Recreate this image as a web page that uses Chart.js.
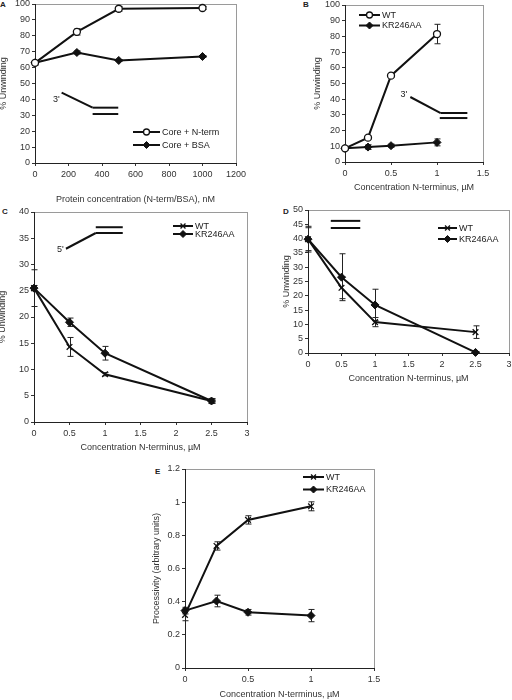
<!DOCTYPE html>
<html>
<head>
<meta charset="utf-8">
<script src="https://cdn.jsdelivr.net/npm/chart.js@4.4.1/dist/chart.umd.min.js"></script>
<style>
  body { margin: 0; width: 512px; height: 700px; overflow: hidden; background: #fff; position: relative; }
  canvas { position: absolute; }
  .tag { position: absolute; font: bold 8px 'Liberation Sans', Arial, sans-serif; color: #222; }
</style>
</head>
<body>
<div class="tag" style="left:0px;top:0px">A</div>
<div class="tag" style="left:303px;top:0px">B</div>
<div class="tag" style="left:2px;top:207px">C</div>
<div class="tag" style="left:283px;top:207px">D</div>
<div class="tag" style="left:155px;top:467px">E</div>
<canvas id="chartA"></canvas>
<canvas id="chartB"></canvas>
<canvas id="chartC"></canvas>
<canvas id="chartD"></canvas>
<canvas id="chartE"></canvas>
<script>
// ---- panel A data
const aConc = [0, 250, 500, 1000]
const aNterm = [63, 82.5, 97, 97.5]
const aNtermErr = [1.5, 2, 1.5, 1]
const aBsa = [63, 69.5, 64.5, 67]
const aBsaErr = [1, 1, 0.5, 0.5]
const aXTicks = [0, 200, 400, 600, 800, 1000, 1200]
const aYTicks = [0, 10, 20, 30, 40, 50, 60, 70, 80, 90, 100]

// ---- panel B data
const bConc = [0, 0.25, 0.5, 1]
const bWT = [8.7, 15.5, 55, 81.5]
const bWTErr = [1, 1, 1, 6.2]
const bKR = [8.7, 9.5, 10.4, 12.5]
const bKRErr = [1, 1.5, 1, 2.2]
const bXTicks = [0, 0.5, 1, 1.5]
const bYTicks = [0, 10, 20, 30, 40, 50, 60, 70, 80, 90, 100]

// ---- panel C data
const cConc = [0, 0.5, 1, 2.5]
const cWT = [25.5, 14.3, 9.1, 4]
const cWTErr = [3.5, 1.8, 0.3, 0.4]
const cKR = [25.5, 19, 13.1, 4]
const cKRErr = [0.5, 0.8, 1.3, 0.4]
const cXTicks = [0, 0.5, 1, 1.5, 2, 2.5, 3]
const cYTicks = [0, 5, 10, 15, 20, 25, 30, 35, 40]

// ---- panel D data
const dConc = [0, 0.5, 1, 2.5]
const dWT = [39.8, 22.8, 10.8, 7.3]
const dWTErr = [4, 3.8, 1.6, 2.2]
const dKR = [39.8, 26.5, 16.8, 0.2]
const dKRErr = [4.5, 8.2, 5.5, 0.3]
const dXTicks = [0, 0.5, 1, 1.5, 2, 2.5, 3]
const dYTicks = [0, 5, 10, 15, 20, 25, 30, 35, 40, 45, 50]

// ---- panel E data
const eConc = [0, 0.25, 0.5, 1]
const eWT = [0.32, 0.736, 0.893, 0.975]
const eWTErr = [0.035, 0.025, 0.025, 0.027]
const eKR = [0.346, 0.404, 0.336, 0.316]
const eKRErr = [0.02, 0.035, 0.017, 0.037]
const eXTicks = [0, 0.5, 1, 1.5]
const eYTicks = [0, 0.2, 0.4, 0.6, 0.8, 1, 1.2]

// DNA substrate sketches, in data units: [x1, y1, x2, y2]
const aSketch = [[159, 44.2, 344, 34.8], [344, 34.8, 497, 34.8], [344, 30.8, 497, 30.8]]
const bSketch = [[0.71, 41.4, 1.04, 31.2], [1.04, 31.2, 1.33, 31.2], [1.03, 28, 1.33, 28]]
const cSketch = [[0.45, 33, 0.87, 36], [0.87, 37.1, 1.25, 37.1], [0.87, 36, 1.25, 36]]
const dSketch = [[0.34, 46.2, 0.78, 46.2], [0.34, 43.7, 0.78, 43.7]]

const FONT = 9
const FAMILY = "'Liberation Sans', Arial, sans-serif"
Chart.defaults.font.family = FAMILY
Chart.defaults.font.size = FONT
Chart.defaults.color = '#333'

const fmt = v => String(+Number(v).toFixed(2))

const markers = {
    open: { pointStyle: 'circle', radius: 3.5, fill: '#fff', width: 1.3 },
    diamond: { pointStyle: 'rectRot', radius: 4, fill: '#111', width: 1 },
    cross: { pointStyle: 'crossRot', radius: 4, fill: '#111', width: 1.3 }
}

function makeExtras(p, off) {
    return {
        id: 'extras' + p.id,
        beforeDraw(chart) {
            const { ctx, chartArea: ca } = chart
            ctx.save()
            ctx.strokeStyle = '#9a9a9a'
            ctx.lineWidth = 1
            ctx.strokeRect(ca.left + 0.5, ca.top + 0.5, ca.right - ca.left, ca.bottom - ca.top)
            ctx.restore()
        },
        beforeDatasetsDraw(chart) {
            const { ctx } = chart
            const ys = chart.scales.y
            ctx.save()
            ctx.strokeStyle = '#222'
            ctx.lineWidth = 1
            chart.data.datasets.forEach((ds, i) => {
                const meta = chart.getDatasetMeta(i)
                meta.data.forEach((el, j) => {
                    const err = ds.errors[j]
                    const v = ds.data[j].y
                    const top = ys.getPixelForValue(v + err)
                    const bot = ys.getPixelForValue(v - err)
                    const x = Math.round(el.x) + 0.5
                    ctx.beginPath()
                    ctx.moveTo(x, top); ctx.lineTo(x, bot)
                    ctx.moveTo(x - 3, top); ctx.lineTo(x + 3, top)
                    ctx.moveTo(x - 3, bot); ctx.lineTo(x + 3, bot)
                    ctx.stroke()
                })
            })
            ctx.restore()
        },
        afterDatasetsDraw(chart) {
            const { ctx } = chart
            const xs = chart.scales.x, ys = chart.scales.y
            ctx.save()
            ctx.strokeStyle = '#111'
            ctx.lineWidth = 2
            ;(p.sketch || []).forEach(s => {
                ctx.beginPath()
                ctx.moveTo(xs.getPixelForValue(s[0]), ys.getPixelForValue(s[1]))
                ctx.lineTo(xs.getPixelForValue(s[2]), ys.getPixelForValue(s[3]))
                ctx.stroke()
            })
            ctx.fillStyle = '#222'
            ctx.font = FONT + 'px ' + FAMILY
            ctx.textAlign = 'center'
            ctx.textBaseline = 'middle'
            if (p.sketchText) {
                ctx.fillText(p.sketchText.text, xs.getPixelForValue(p.sketchText.x), ys.getPixelForValue(p.sketchText.y))
            }
            // legend: line with marker, then label
            const lg = p.legend
            chart.data.datasets.forEach((ds, i) => {
                const x0 = lg.x - off.x, y0 = lg.y - off.y + i * lg.dy
                ctx.strokeStyle = '#111'
                ctx.lineWidth = 2
                ctx.beginPath()
                ctx.moveTo(x0, y0); ctx.lineTo(x0 + lg.len, y0)
                ctx.stroke()
                const m = markers[ds.marker]
                ctx.fillStyle = m.fill
                ctx.lineWidth = m.width
                Chart.helpers.drawPoint(ctx, { pointStyle: m.pointStyle, radius: m.radius - 0.5, rotation: 0, borderWidth: m.width }, x0 + lg.len / 2, y0)
                ctx.fillStyle = '#222'
                ctx.textAlign = 'left'
                ctx.fillText(ds.label, x0 + lg.len + 2, y0 + 0.5)
            })
            ctx.restore()
        }
    }
}

function makePanel(p) {
    const cv = document.getElementById(p.id)
    const b = p.box, a = p.area
    cv.width = b.w; cv.height = b.h
    cv.style.left = b.x + 'px'; cv.style.top = b.y + 'px'
    const half = FONT * 0.6
    const yEdge = p.yTitleAt - half
    const xEdge = p.xTitleAt + half
    const axis = (ticks, title, size, horiz) => ({
        type: 'linear',
        min: ticks[0],
        max: ticks[ticks.length - 1],
        afterBuildTicks: s => { s.ticks = ticks.map(value => ({ value })) },
        afterFit: s => {
            if (horiz) s.height = size; else s.width = size
            s.paddingLeft = 0; s.paddingRight = 0; s.paddingTop = 0; s.paddingBottom = 0
        },
        ticks: { callback: v => fmt(v), padding: horiz ? 3 : 2, color: '#333', maxRotation: 0, autoSkip: false },
        grid: { drawOnChartArea: false, tickLength: 3, color: '#333' },
        border: { color: '#222' },
        title: { display: true, text: title, padding: 0, color: '#333' }
    })
    const datasets = p.series.map(s => {
        const m = markers[s.marker]
        return {
            label: s.label,
            marker: s.marker,
            errors: s.errors,
            data: p.xs.map((x, i) => ({ x, y: s.ys[i] })),
            borderColor: '#111',
            borderWidth: 2,
            tension: 0,
            clip: false,
            pointStyle: m.pointStyle,
            pointRadius: m.radius,
            pointBackgroundColor: m.fill,
            pointBorderColor: '#111',
            pointBorderWidth: m.width
        }
    })
    return new Chart(cv.getContext('2d'), {
        type: 'line',
        data: { datasets },
        options: {
            responsive: false,
            animation: false,
            events: [],
            layout: {
                padding: {
                    left: yEdge - b.x,
                    top: a.t - b.y,
                    right: b.x + b.w - a.r,
                    bottom: b.y + b.h - xEdge
                }
            },
            scales: {
                x: axis(p.xTicks, p.xTitle, xEdge - a.b, true),
                y: axis(p.yTicks, p.yTitle, a.l - yEdge, false)
            },
            plugins: { legend: { display: false }, tooltip: { enabled: false } }
        },
        plugins: [makeExtras(p, { x: b.x, y: b.y })]
    })
}

const concLabel = 'Concentration N-terminus, \u00b5M'

makePanel({
    id: 'chartA',
    box: { x: -5, y: -6, w: 255, h: 214 },
    area: { l: 35, t: 4, r: 236, b: 163 },
    yTitleAt: 4, xTitleAt: 200,
    xTicks: aXTicks, yTicks: aYTicks,
    xTitle: 'Protein concentration (N-term/BSA), nM', yTitle: '% Unwinding',
    xs: aConc,
    series: [
        { label: 'Core + N-term', ys: aNterm, errors: aNtermErr, marker: 'open' },
        { label: 'Core + BSA', ys: aBsa, errors: aBsaErr, marker: 'diamond' }
    ],
    sketch: aSketch, sketchText: { text: "3'", x: 128, y: 40 },
    legend: { x: 133, y: 132, dy: 13, len: 27 }
})

makePanel({
    id: 'chartB',
    box: { x: 300, y: -6, w: 212, h: 205 },
    area: { l: 345, t: 5, r: 483, b: 162 },
    yTitleAt: 318, xTitleAt: 188,
    xTicks: bXTicks, yTicks: bYTicks,
    xTitle: concLabel, yTitle: '% Unwinding',
    xs: bConc,
    series: [
        { label: 'WT', ys: bWT, errors: bWTErr, marker: 'open' },
        { label: 'KR246AA', ys: bKR, errors: bKRErr, marker: 'diamond' }
    ],
    sketch: bSketch, sketchText: { text: "3'", x: 0.64, y: 43 },
    legend: { x: 359, y: 15, dy: 10.5, len: 21 }
})

makePanel({
    id: 'chartC',
    box: { x: -5, y: 200, w: 260, h: 258 },
    area: { l: 34, t: 212, r: 247, b: 422 },
    yTitleAt: 3, xTitleAt: 448,
    xTicks: cXTicks, yTicks: cYTicks,
    xTitle: concLabel, yTitle: '% Unwinding',
    xs: cConc,
    series: [
        { label: 'WT', ys: cWT, errors: cWTErr, marker: 'cross' },
        { label: 'KR246AA', ys: cKR, errors: cKRErr, marker: 'diamond' }
    ],
    sketch: cSketch, sketchText: { text: "5'", x: 0.37, y: 32.8 },
    legend: { x: 173, y: 226, dy: 8, len: 20 }
})

makePanel({
    id: 'chartD',
    box: { x: 270, y: 198, w: 250, h: 190 },
    area: { l: 308, t: 210, r: 509, b: 353 },
    yTitleAt: 287, xTitleAt: 379,
    xTicks: dXTicks, yTicks: dYTicks,
    xTitle: concLabel, yTitle: '% Unwinding',
    xs: dConc,
    series: [
        { label: 'WT', ys: dWT, errors: dWTErr, marker: 'cross' },
        { label: 'KR246AA', ys: dKR, errors: dKRErr, marker: 'diamond' }
    ],
    sketch: dSketch,
    legend: { x: 438, y: 228, dy: 11, len: 19 }
})

makePanel({
    id: 'chartE',
    box: { x: 140, y: 458, w: 250, h: 245 },
    area: { l: 185, t: 469, r: 374, b: 668 },
    yTitleAt: 157, xTitleAt: 695,
    xTicks: eXTicks, yTicks: eYTicks,
    xTitle: concLabel, yTitle: 'Processivity (arbitrary units)',
    xs: eConc,
    series: [
        { label: 'WT', ys: eWT, errors: eWTErr, marker: 'cross' },
        { label: 'KR246AA', ys: eKR, errors: eKRErr, marker: 'diamond' }
    ],
    legend: { x: 303, y: 477, dy: 12.5, len: 21 }
})
</script>
</body>
</html>
